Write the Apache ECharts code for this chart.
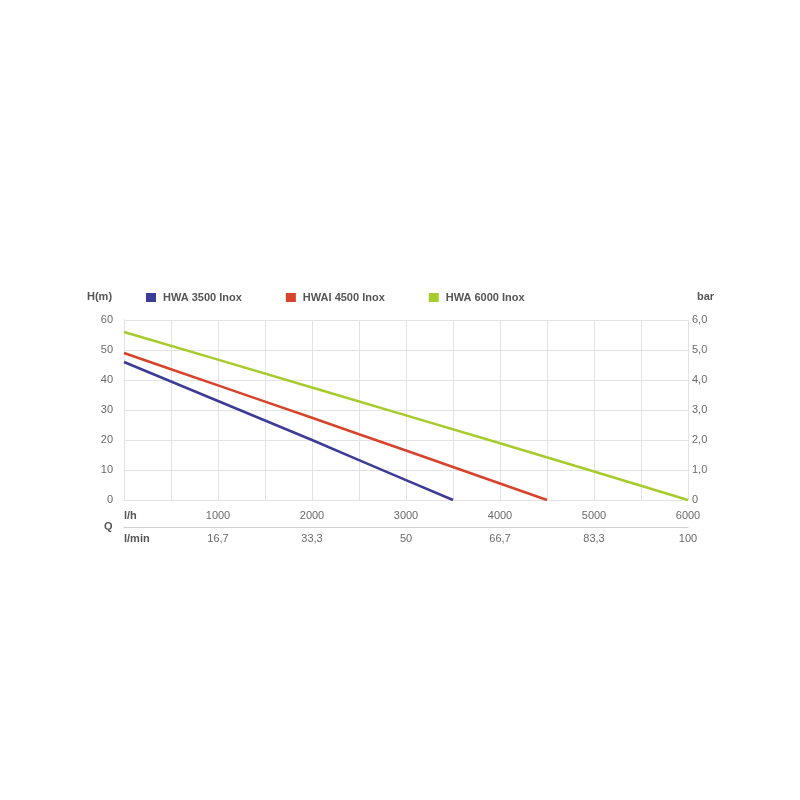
<!DOCTYPE html>
<html>
<head>
<meta charset="utf-8">
<script src="https://cdn.jsdelivr.net/npm/echarts@6/dist/echarts.min.js"></script>
<style>html,body{margin:0;padding:0;background:#fff;}#c{width:800px;height:800px;}</style>
</head>
<body>
<div id="c"></div>
<script>
const seriesNames = ['HWA 3500 Inox', 'HWAI 4500 Inox', 'HWA 6000 Inox'];
const hwa3500 = [[0,46],[500,39.5],[1000,33],[1500,26.5],[2000,20],[2500,13.3],[3000,6.6],[3500,0]];
const hwai4500 = [[0,49],[500,43.6],[1000,38.2],[1500,32.8],[2000,27.4],[2500,21.9],[3000,16.5],[3500,11],[4000,5.5],[4500,0]];
const hwa6000 = [[0,56],[1000,46.8],[2000,37.5],[3000,28.2],[4000,18.9],[5000,9.5],[6000,0]];
const lhTicks = {0:'l/h',1000:'1000',2000:'2000',3000:'3000',4000:'4000',5000:'5000',6000:'6000'};
const lminTicks = {0:'l/min',1000:'16,7',2000:'33,3',3000:'50',4000:'66,7',5000:'83,3',6000:'100'};
const barTicks = ['0','1,0','2,0','3,0','4,0','5,0','6,0'];
const colors = ['#3b3c98','#d8432b','#a6cc2c'];

const chart = echarts.init(document.getElementById('c'), null, {renderer:'canvas'});
const gridColor = '#e3e3e3';
const labelColor = '#6a6a6a';
const font = 'Liberation Sans, Arial, sans-serif';
chart.setOption({
  backgroundColor:'#fff',
  animation:false,
  textStyle:{fontFamily:font},
  grid:{left:124,right:112,top:320,bottom:300,containLabel:false},
  legend:{
    data:seriesNames,
    left:141, top:287,
    icon:'rect', itemWidth:10, itemHeight:9, itemGap:44,
    textStyle:{color:'#555',fontWeight:'bold',fontSize:11,fontFamily:font,padding:[0,0,0,2]}
  },
  xAxis:[{
    type:'value', min:0, max:6000, interval:500, position:'bottom',
    axisLine:{show:true,lineStyle:{color:gridColor,width:1}},
    axisTick:{show:false},
    splitLine:{show:true,lineStyle:{color:gridColor,width:1}},
    axisLabel:{
      margin:10, fontSize:11, color:labelColor, alignMinLabel:'left',
      formatter:v=> v===0 ? '{b|l/h}' : (lhTicks[v]!==undefined ? lhTicks[v] : ''),
      rich:{b:{fontWeight:'bold',color:'#555',fontSize:11}}
    }
  },{
    type:'value', min:0, max:6000, interval:500, position:'bottom', offset:27,
    axisLine:{show:true,onZero:false,lineStyle:{color:'#d0d0d0',width:1}},
    axisTick:{show:false},
    splitLine:{show:false},
    axisLabel:{
      margin:6, fontSize:11, color:labelColor, alignMinLabel:'left',
      formatter:v=> v===0 ? '{b|l/min}' : (lminTicks[v]!==undefined ? lminTicks[v] : ''),
      rich:{b:{fontWeight:'bold',color:'#555',fontSize:11}}
    }
  }],
  yAxis:[{
    type:'value', min:0, max:60, interval:10, position:'left',
    axisLine:{show:true,lineStyle:{color:gridColor}},
    axisTick:{show:false},
    splitLine:{show:true,lineStyle:{color:gridColor}},
    axisLabel:{margin:11,fontSize:11,color:labelColor}
  },{
    type:'value', min:0, max:6, interval:1, position:'right',
    axisLine:{show:true,lineStyle:{color:gridColor}},
    axisTick:{show:false},
    splitLine:{show:false},
    axisLabel:{margin:4,fontSize:11,color:labelColor,formatter:v=>barTicks[Math.round(v)]}
  }],
  graphic:[
    {type:'text',left:87,top:291,style:{text:'H(m)',fill:'#555',font:'bold 11px '+font}},
    {type:'text',left:697,top:291,style:{text:'bar',fill:'#555',font:'bold 11px '+font}},
    {type:'text',left:104,top:521,style:{text:'Q',fill:'#555',font:'bold 11px '+font}}
  ],
  series:[
    {name:seriesNames[0],type:'line',data:hwa3500,showSymbol:false,lineStyle:{width:2.5,color:colors[0]},itemStyle:{color:colors[0]},xAxisIndex:0,yAxisIndex:0},
    {name:seriesNames[1],type:'line',data:hwai4500,showSymbol:false,lineStyle:{width:2.5,color:colors[1]},itemStyle:{color:colors[1]},xAxisIndex:0,yAxisIndex:0},
    {name:seriesNames[2],type:'line',data:hwa6000,showSymbol:false,lineStyle:{width:2.5,color:colors[2]},itemStyle:{color:colors[2]},xAxisIndex:0,yAxisIndex:0}
  ]
});
</script>
</body>
</html>
